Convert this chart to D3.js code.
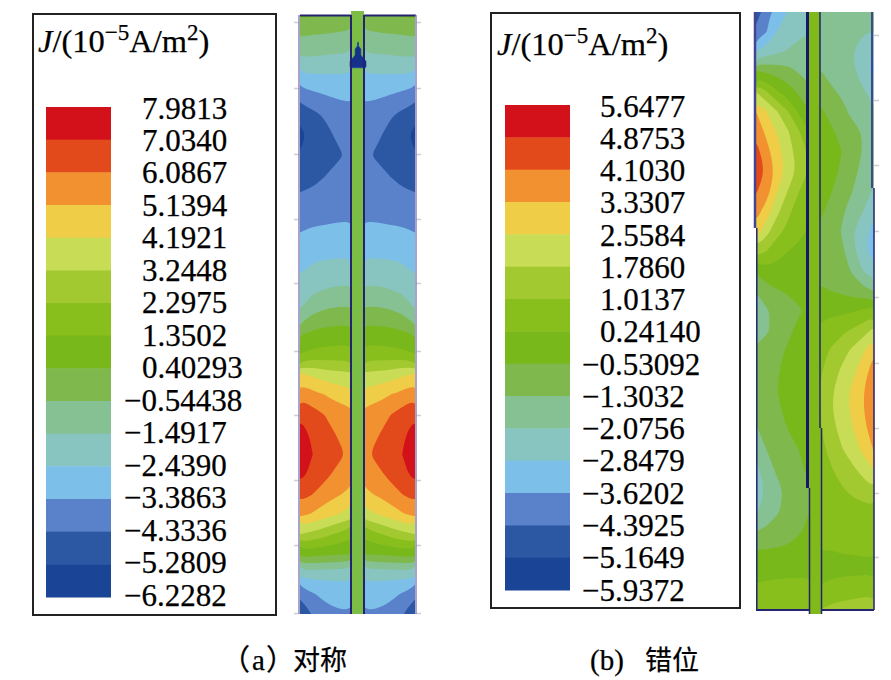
<!DOCTYPE html>
<html>
<head>
<meta charset="utf-8">
<script src="https://cdn.jsdelivr.net/npm/d3@7"></script>
<style>
body { margin: 0; background: #fff; }
svg text { font-family: "Liberation Serif", serif; fill: #000; stroke: #000; stroke-width: 0.25px; }
</style>
</head>
<body>
<div id="chart"></div>
<script>
// legend labels, top to bottom
var labelsA = ["7.9813","7.0340","6.0867","5.1394","4.1921","3.2448","2.2975","1.3502","0.40293","−0.54438","−1.4917","−2.4390","−3.3863","−4.3336","−5.2809","−6.2282"];
var labelsB = ["5.6477","4.8753","4.1030","3.3307","2.5584","1.7860","1.0137","0.24140","−0.53092","−1.3032","−2.0756","−2.8479","−3.6202","−4.3925","−5.1649","−5.9372"];
// band colours, lowest band first
var bandColors = ["#1a4596","#2c57a3","#5a82cb","#7cbfe9","#88c5c1","#86c193","#7fb84c","#78b81b","#88bf1d","#a3c930","#c9dc56","#efcd46","#f29130","#e24a1b","#d2111b"];

// fields are read off the picture as a position on the legend (0 = bottom label, 15 = top label)
// rows run top to bottom, columns from the outer wall to the strip
var fieldA = [
[7.2,7.1,7.0,6.8,6.7],[6.1,6.0,5.95,5.85,5.8],[5.1,5.1,5.0,4.95,4.9],[3.9,3.95,3.95,3.95,3.96],
[2.5,2.75,3.0,3.15,3.2],[1.3,1.75,2.15,2.5,2.7],[.75,1.25,1.7,2.2,2.4],[1.05,1.3,1.6,1.85,2.2],
[1.55,1.7,1.98,2.3,2.45],[2.07,2.17,2.3,2.45,2.6],[2.56,2.62,2.7,2.78,2.85],[3.05,3.25,3.3,3.34,3.35],
[3.52,3.78,3.85,3.88,3.9],[4.0,4.35,4.45,4.52,4.55],[4.5,5.0,5.25,5.35,5.4],[5.2,6.0,6.3,6.4,6.45],
[6.9,7.25,7.4,7.45,7.45],[8.0,8.3,8.4,8.45,8.45],[11.2,10.8,10.5,10.3,10.2],[12.7,12.3,11.95,11.6,11.4],
[13.9,13.4,12.95,12.55,12.3],[14.4,13.85,13.4,12.9,12.7],[14.6,14.0,13.55,13.25,12.8],[14.3,13.75,13.25,12.7,12.4],
[13.4,13.0,12.5,12.1,11.75],[12.3,11.9,11.45,11.0,10.6],[10,9.7,9.3,8.8,8.4],[7.4,7.3,7.2,7.1,7.0],
[4.4,4.4,4.35,4.3,4.3],[2.2,2.9,3.3,3.45,3.5],[1.4,2.0,2.6,2.85,2.9]
];
var fieldBLeft = [
[1.5,2.7,3.5,4.0,4.5,4.9],[2.2,3.0,4.1,4.5,4.8,5.0],[4.0,4.5,4.85,5.1,5.3,5.5],[7.1,6.9,6.6,6.4,5.9,5.6],
[10.0,9.0,8.05,7.4,6.8,6.25],[12,11,10,9,7.8,7.0],[12.7,11.75,10.9,10.05,9.05,7.9],[13.4,12.3,11.35,10.4,9.55,8.8],
[13.7,12.85,11.6,10.65,9.7,8.9],[13.1,12.4,11.0,9.9,9.0,8.4],[12.4,11.5,10.2,9.2,8.5,8.1],[11.6,10.3,9.3,8.7,8.2,7.9],
[9.6,9.0,8.3,8,7.8,7.7],[7.15,7.6,7.7,7.65,7.6,7.5],[6.0,6.6,6.95,7.1,7.3,7.4],[5.5,5.9,6.3,6.6,6.9,7.2],
[5.5,5.9,6.3,6.8,7.3,7.5],[6.2,6.5,6.75,7.15,7.5,7.6],[6.4,6.6,6.95,7.3,7.6,7.7],[6.3,6.6,7.0,7.3,7.6,7.7],
[6.2,6.5,6.9,7.2,7.5,7.6],[5.9,6.3,6.7,7.0,7.35,7.5],[5.3,6.0,6.45,6.75,7.0,7.3],[4.7,5.6,6.15,6.55,6.85,7.15],
[4.55,5.1,5.8,6.2,6.65,6.95],[4.85,5.4,5.9,6.3,6.7,7.0],[5.95,6.15,6.4,6.6,6.9,7.2],[7.0,7.05,7.1,7.15,7.3,7.4],
[7.7,7.75,7.75,7.8,7.8,7.8],[8.2,8.2,8.3,8.3,8.3,8.3],[8.4,8.5,8.6,8.6,8.6,8.6]
];
var fieldBRight = [
[5.4,5.3,5.2,5.1,5.05,5.0],[5.5,5.4,5.3,5.2,5.05,5.0],[5.6,5.5,5.3,5.0,4.5,4.0],[6.05,5.75,5.45,5.15,4.6,3.9],
[6.6,6.15,5.85,5.45,5.1,4.7],[7.2,6.7,6.3,5.75,5.4,5.1],[7.4,7.15,6.75,6.3,5.95,5.3],[7.5,7.3,7.0,6.5,5.95,5.5],
[7.5,7.25,6.9,6.3,5.7,5.2],[7.4,7.05,6.6,6.0,5.4,4.9],[7.15,6.75,6.15,5.6,5.0,4.3],[6.9,6.45,5.95,5.05,4.3,3.7],
[6.75,6.4,6.2,5.3,4.15,3.6],[6.9,6.7,6.4,5.9,5.0,4.4],[7.05,7.0,6.85,6.6,6.3,6.0],[7.7,7.75,7.8,7.9,8.2,8.5],
[8.2,8.55,8.8,9.15,9.6,10.3],[8.6,9.1,9.6,10.2,10.9,11.9],[8.9,9.45,10.15,10.7,11.55,12.5],[9.0,9.85,10.5,11.2,11.95,12.9],
[8.95,9.9,10.55,11.2,11.95,12.9],[8.9,9.6,10.3,10.9,11.7,12.5],[8.75,9.2,9.9,10.45,11.2,12.05],[8.45,8.9,9.4,9.8,10.25,11.0],
[8.2,8.45,8.85,9.25,9.55,9.9],[8.2,8.3,8.4,8.5,8.6,8.75],[8.15,8.2,8.2,8.25,8.3,8.35],[8.0,8.0,8.05,8.05,8.1,8.1],
[7.75,7.75,7.8,7.8,7.8,7.8],[8.1,8.3,8.4,8.5,8.6,8.7],[9.0,9.3,9.5,9.6,9.7,9.6]
];
// dark spot on the strip near the top of panel (a)
var spotA = [
[6.5,6.5,6.5,.5,6.5,6.5,6.5],[6.5,6.5,6.5,.5,6.5,6.5,6.5],[6.5,6.5,.5,.5,.5,6.5,6.5],[6.5,6.5,.5,.5,.5,6.5,6.5],
[6.5,6.5,.5,.5,.5,6.5,6.5],[6.5,.5,.5,.5,.5,.5,6.5],[.5,.5,.5,.5,.5,.5,.5],[.5,.5,.5,.5,.5,.5,.5],[.5,.5,.5,.5,.5,.5,.5],[6.5,6.5,6.5,6.5,6.5,6.5,6.5]
];
var ticksA = [22,88,154,219,283,351,415,480,545,613];
var ticksB = [35,100,165,231,297,363,428,493,557];

var svg = d3.select("#chart").append("svg")
    .attr("width", 891)
    .attr("height", 680);

var defs = svg.append("defs");
var clipCount = 0;

function drawField(rows, labels, x0, x1, y0, y1) {
    var nx = rows[0].length, ny = rows.length;
    var low = parseFloat(labels[15].replace("−", "-"));
    var high = parseFloat(labels[0].replace("−", "-"));
    var toJ = d3.scaleLinear().domain([0, 15]).range([low, high]);
    var values = d3.merge(rows).map(toJ);
    var thresholds = d3.range(0, 15).map(toJ);
    var x = d3.scaleLinear().domain([0, nx - 1]).range([x0, x1]);
    var y = d3.scaleLinear().domain([0, ny - 1]).range([y0, y1]);
    // contour rings are drawn with a rounded curve so the coarse grid does not show
    var ringLine = d3.line()
        .x(function(p) { return x(p[0] - 0.5); })
        .y(function(p) { return y(p[1] - 0.5); })
        .curve(d3.curveBasisClosed);
    var id = "clip" + (clipCount++);
    defs.append("clipPath").attr("id", id).append("rect")
        .attr("x", Math.min(x0, x1)).attr("y", y0)
        .attr("width", Math.abs(x1 - x0)).attr("height", y1 - y0);
    var g = svg.append("g").attr("clip-path", "url(#" + id + ")");
    g.append("rect")
        .attr("x", Math.min(x0, x1)).attr("y", y0)
        .attr("width", Math.abs(x1 - x0)).attr("height", y1 - y0)
        .attr("fill", bandColors[0]);
    g.selectAll("path")
        .data(d3.contours().size([nx, ny]).thresholds(thresholds)(values))
        .join("path")
        .attr("fill-rule", "evenodd")
        .attr("d", function(c) {
            return c.coordinates.map(function(poly) {
                return poly.map(function(ring) { return ringLine(ring.slice(0, -1)); }).join("");
            }).join("");
        })
        .attr("fill", function(d, i) { return bandColors[i]; });
}

function drawLegend(labels, o) {
    svg.append("rect")
        .attr("x", o.boxX).attr("y", o.boxY)
        .attr("width", o.boxW).attr("height", o.boxH)
        .attr("fill", "#fff").attr("stroke", "#222").attr("stroke-width", 2);

    var title = svg.append("text")
        .attr("x", o.titleX).attr("y", o.titleY)
        .attr("font-size", 32.5);
    title.append("tspan").attr("font-style", "italic").text("J");
    title.append("tspan").text("/(10");
    title.append("tspan").attr("dy", -12).attr("font-size", 23).text("−5");
    title.append("tspan").attr("dy", 12).text("A/m");
    title.append("tspan").attr("dy", -12).attr("font-size", 23).text("2");
    title.append("tspan").attr("dy", 12).text(")");

    var band = d3.scaleBand().domain(d3.range(15)).range([o.barTop, o.barBottom]);
    svg.append("g").selectAll("rect")
        .data(d3.range(15))
        .join("rect")
        .attr("x", o.barX).attr("width", o.barW)
        .attr("y", function(i) { return band(i); })
        .attr("height", band.bandwidth() + 0.5)
        .attr("fill", function(i) { return bandColors[14 - i]; });

    var y = d3.scalePoint().domain(labels).range([o.labelTop, o.labelBottom]);
    svg.append("g").selectAll("text")
        .data(labels)
        .join("text")
        .attr("x", function(d) { return d[0] == "−" ? o.labelX - 18 : o.labelX; })
        .attr("y", function(d) { return y(d); })
        .attr("dy", "0.34em")
        .attr("font-size", 31)
        .text(function(d) { return d; });
}

function line(x1, y1, x2, y2, color, width) {
    svg.append("line")
        .attr("x1", x1).attr("y1", y1).attr("x2", x2).attr("y2", y2)
        .attr("stroke", color).attr("stroke-width", width);
}

function grayTicks(values, x, side) {
    var scale = d3.scaleLinear().domain([0, 680]).range([0, 680]);
    var axis = side < 0 ? d3.axisLeft(scale) : d3.axisRight(scale);
    var g = svg.append("g")
        .attr("transform", "translate(" + x + ",0)")
        .call(axis.tickValues(values).tickSize(5).tickFormat(""));
    g.select(".domain").remove();
    g.selectAll("line").attr("stroke", "#cfcfcf").attr("stroke-width", 1.5);
}

var navy = "#23236f";
var lilac = "#8a84bd";

// panel (a)
drawLegend(labelsA, { boxX: 33, boxY: 14, boxW: 243, boxH: 601, titleX: 38, titleY: 52,
    barX: 46, barW: 65, barTop: 107, barBottom: 597, labelX: 142, labelTop: 108, labelBottom: 595 });
grayTicks(ticksA, 299, -1);
grayTicks(ticksA, 416, 1);
drawField(fieldA, labelsA, 300, 351, 15, 614);
drawField(fieldA, labelsA, 415, 364, 15, 614);
svg.append("rect").attr("x", 351).attr("y", 11).attr("width", 13).attr("height", 603).attr("fill", "#7cbd45");

// spot on the strip, drawn from its own little grid
(function() {
    var nx = spotA[0].length, ny = spotA.length;
    var x = d3.scaleLinear().domain([0, nx - 1]).range([351, 365]);
    var y = d3.scaleLinear().domain([0, ny - 1]).range([43, 70]);
    var path = d3.geoPath(d3.geoTransform({
        point: function(a, b) { this.stream.point(x(a - 0.5), y(b - 0.5)); }
    }));
    var spot = d3.contours().size([nx, ny]).thresholds([-3, -1.2])(d3.merge(spotA).map(function(v) { return -v; }));
    svg.append("g").selectAll("path")
        .data(spot)
        .join("path")
        .attr("d", path)
        .attr("fill", function(d, i) { return i == 0 ? "#2c57a3" : "#15318a"; });
})();

line(300, 15.5, 351, 15.5, navy, 2);
line(364, 15.5, 416, 15.5, navy, 2);
line(351, 15, 351, 614, navy, 2);
line(364, 15, 364, 614, navy, 2);
line(299, 15, 299, 614, lilac, 1.5);
line(416, 15, 416, 614, lilac, 1.5);

// panel (b)
drawLegend(labelsB, { boxX: 491, boxY: 13, boxW: 249, boxH: 595, titleX: 497, titleY: 55,
    barX: 505, barW: 65, barTop: 105, barBottom: 590, labelX: 600, labelTop: 106, labelBottom: 590 });
grayTicks(ticksB, 874, 1);
drawField(fieldBLeft, labelsB, 756, 810, 12, 610);
drawField(fieldBRight, labelsB, 820, 874, 12, 610);
svg.append("rect").attr("x", 809).attr("y", 12).attr("width", 11).attr("height", 416).attr("fill", "#80ba1a");
svg.append("rect").attr("x", 810).attr("y", 428).attr("width", 11).attr("height", 186).attr("fill", "#80ba1a");
line(807.5, 12, 807.5, 488, "#16166a", 3);
line(809.5, 488, 809.5, 614, navy, 1.5);
line(820, 12, 820, 428, navy, 1.5);
line(821.5, 428, 821.5, 614, navy, 1.5);
line(755, 12, 755, 228, "#45458f", 2.5);
line(756.8, 228, 756.8, 610, navy, 1.5);
line(872, 12, 872, 188, "#45458f", 2);
line(874, 188, 874, 610, navy, 1.5);
line(756, 610, 809, 610, navy, 2);
line(821, 610, 874, 610, navy, 2);

// captions
var captions = [
    { parts: [["（", 221], ["a", 252], ["）", 266]], han: "对称", hanX: 293 },
    { parts: [["(b)", 590]], han: "错位", hanX: 645 }
];
svg.append("g").selectAll("text")
    .data(captions)
    .join("text")
    .attr("y", 670)
    .attr("font-size", 29)
    .each(function(d) {
        var t = d3.select(this);
        d.parts.forEach(function(p) {
            t.append("tspan").attr("x", p[1]).style("font-family", "'Liberation Serif','Noto Sans CJK SC'").text(p[0]);
        });
        t.append("tspan").attr("x", d.hanX).attr("font-size", 27).style("font-family", "'Noto Sans CJK SC'").text(d.han);
    });
</script>
</body>
</html>
